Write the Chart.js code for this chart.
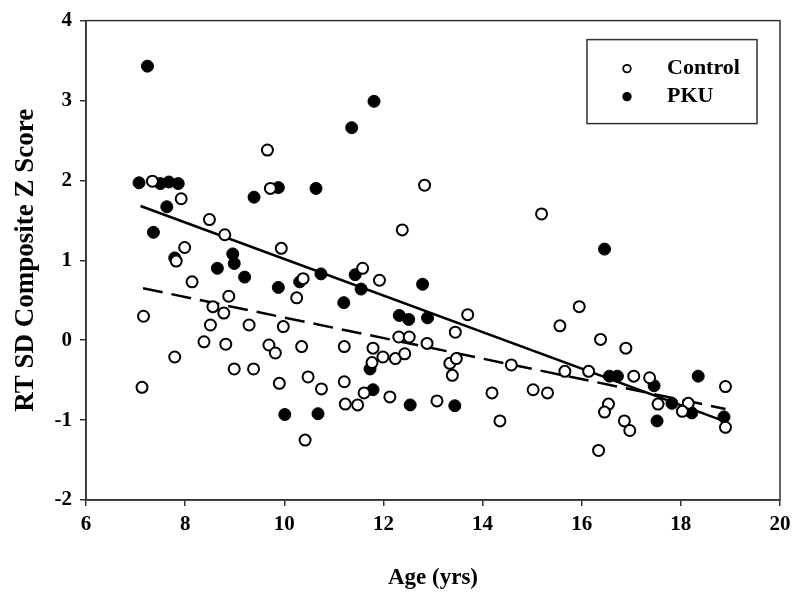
<!DOCTYPE html>
<html>
<head>
<meta charset="utf-8">
<script src="https://cdn.jsdelivr.net/npm/chart.js@4/dist/chart.umd.min.js"></script>
<style>
  body { margin: 0; background: #fff; }
  #wrap { width: 800px; height: 601px; }
</style>
</head>
<body>
<div id="wrap"><canvas id="chart" width="800" height="601"></canvas></div>
<script>
// Control group: age (yrs) and RT SD composite z score
const controlAge = [9.66, 7.34, 7.92, 9.72, 8.49, 8.80, 7.99, 9.94, 7.82, 8.14, 10.38, 8.88, 10.25, 7.16, 8.56, 8.78,
  8.51, 9.29, 9.98, 8.38, 8.82, 9.69, 9.82, 10.35, 7.79, 8.99, 9.38, 10.48, 9.90, 10.75, 7.13, 10.42,
  12.83, 15.19, 12.38, 11.58, 11.92, 13.70, 13.45, 15.56, 12.31, 12.52, 12.88, 11.21, 11.79, 11.77, 11.99, 12.24,
  12.43, 13.34, 13.47, 13.39, 14.58, 15.66, 11.21, 11.61, 12.13, 11.23, 11.48, 13.08, 14.19, 15.02, 15.31, 14.35,
  15.95, 16.38, 16.89, 16.14, 17.05, 17.37, 18.90, 16.54, 16.46, 17.54, 18.15, 18.03, 16.86, 16.97, 18.90, 16.34];
const controlZ = [2.38, 1.99, 1.77, 1.90, 1.51, 1.32, 1.16, 1.15, 0.99, 0.73, 0.77, 0.55, 0.53, 0.30, 0.42, 0.34,
  0.19, 0.19, 0.17, -0.02, -0.05, -0.06, -0.16, -0.08, -0.21, -0.36, -0.36, -0.46, -0.54, -0.61, -0.59, -1.25,
  1.94, 1.58, 1.38, 0.90, 0.75, 0.32, 0.10, 0.18, 0.04, 0.04, -0.04, -0.08, -0.10, -0.28, -0.21, -0.23,
  -0.17, -0.29, -0.23, -0.44, -0.31, -0.39, -0.52, -0.66, -0.71, -0.80, -0.81, -0.76, -0.66, -0.62, -0.66, -1.01,
  0.42, 0.01, -0.10, -0.39, -0.45, -0.47, -0.58, -0.80, -0.90, -0.80, -0.79, -0.89, -1.01, -1.13, -1.09, -1.38];

// PKU group
const pkuAge = [7.24, 7.07, 7.50, 7.67, 7.86, 7.63, 9.39, 9.88, 10.64, 7.36, 8.96, 7.79, 8.99, 8.65, 9.20, 9.88,
  10.31, 10.74, 10.01, 10.68, 11.81, 11.36, 11.43, 11.55, 12.79, 11.20, 12.32, 12.51, 12.89, 11.73, 11.79, 12.54,
  13.44, 16.46, 16.56, 16.72, 17.46, 18.35, 17.52, 17.82, 18.22, 18.87];
const pkuZ = [3.43, 1.97, 1.96, 1.98, 1.96, 1.67, 1.79, 1.91, 1.90, 1.35, 1.08, 1.03, 0.96, 0.90, 0.79, 0.66,
  0.73, 0.83, -0.93, -0.92, 2.99, 2.66, 0.82, 0.64, 0.70, 0.47, 0.31, 0.26, 0.28, -0.36, -0.62, -0.81,
  -0.82, 1.14, -0.45, -0.45, -0.57, -0.45, -1.01, -0.79, -0.91, -0.96];

// regression lines (end points)
const pkuFitAge = [7.1, 18.9];
const pkuFitZ = [1.68, -1.02];
const controlFitAge = [7.15, 18.9];
const controlFitZ = [0.65, -0.86];

const xTicks = [6, 8, 10, 12, 14, 16, 18, 20];
const yTicks = [-2, -1, 0, 1, 2, 3, 4];

const toPoints = (xs, ys) => xs.map((x, i) => ({ x: x, y: ys[i] }));

const serif = "'Liberation Serif', 'Times New Roman', serif";

// draws the box round the plot and the legend box
const framePlugin = {
    id: 'frame',
    afterDraw(chart) {
        const { ctx, chartArea: a } = chart;
        ctx.save();
        ctx.strokeStyle = '#333';
        ctx.lineWidth = 1.5;
        ctx.strokeRect(a.left, a.top, a.right - a.left, a.bottom - a.top);

        // legend
        const bx = a.right - 193, by = a.top + 19, bw = 170, bh = 84;
        ctx.strokeRect(bx, by, bw, bh);
        const entries = [
            { label: 'Control', ds: chart.data.datasets[0] },
            { label: 'PKU', ds: chart.data.datasets[1] }
        ];
        ctx.font = 'bold 22px ' + serif;
        ctx.textBaseline = 'middle';
        entries.forEach((e, i) => {
            const cy = by + 29 + i * 28;
            ctx.beginPath();
            ctx.arc(bx + 40, cy, 3.8, 0, Math.PI * 2);
            ctx.fillStyle = e.ds.pointBackgroundColor;
            ctx.fill();
            ctx.lineWidth = 1.8;
            ctx.strokeStyle = '#000';
            ctx.stroke();
            ctx.fillStyle = '#000';
            ctx.fillText(e.label, bx + 80, cy);
        });
        ctx.restore();
    }
};

new Chart(document.getElementById('chart'), {
    type: 'scatter',
    data: {
        datasets: [
            {
                label: 'Control',
                data: toPoints(controlAge, controlZ),
                pointRadius: 5.5,
                pointBackgroundColor: '#fff',
                pointBorderColor: '#000',
                pointBorderWidth: 2
            },
            {
                label: 'PKU',
                data: toPoints(pkuAge, pkuZ),
                pointRadius: 6,
                pointBackgroundColor: '#000',
                pointBorderColor: '#000',
                pointBorderWidth: 1
            },
            {
                label: 'PKU fit',
                data: toPoints(pkuFitAge, pkuFitZ),
                showLine: true,
                pointRadius: 0,
                borderColor: '#000',
                borderWidth: 2.5
            },
            {
                label: 'Control fit',
                data: toPoints(controlFitAge, controlFitZ),
                showLine: true,
                pointRadius: 0,
                borderColor: '#000',
                borderWidth: 2.5,
                borderDash: [20, 9]
            }
        ]
    },
    options: {
        responsive: false,
        animation: false,
        layout: { padding: { top: 14, right: 20, left: 0, bottom: 0 } },
        plugins: {
            legend: { display: false },
            tooltip: { enabled: false }
        },
        scales: {
            x: {
                type: 'linear',
                min: 6,
                max: 20,
                afterBuildTicks: s => { s.ticks = xTicks.map(v => ({ value: v })); },
                afterFit: s => { s.height = 101; },
                grid: { drawOnChartArea: false, color: '#333', tickLength: 6, lineWidth: 1.5 },
                border: { color: '#333', width: 1.5 },
                ticks: { color: '#000', padding: 6, font: { family: serif, size: 21, weight: 'bold' } },
                title: {
                    display: true,
                    text: 'Age (yrs)',
                    color: '#000',
                    padding: { top: 0, bottom: 9 },
                    font: { family: serif, size: 23, weight: 'bold' }
                }
            },
            y: {
                type: 'linear',
                min: -2,
                max: 4,
                afterBuildTicks: s => { s.ticks = yTicks.map(v => ({ value: v })); },
                afterFit: s => { s.width = 86; },
                grid: { drawOnChartArea: false, color: '#333', tickLength: 6, lineWidth: 1.5 },
                border: { color: '#333', width: 1.5 },
                ticks: { color: '#000', padding: 8, font: { family: serif, size: 21, weight: 'bold' } },
                title: {
                    display: true,
                    text: 'RT SD Composite Z Score',
                    color: '#000',
                    padding: { top: 10, bottom: 0 },
                    font: { family: serif, size: 27, weight: 'bold' }
                }
            }
        }
    },
    plugins: [framePlugin]
});
</script>
</body>
</html>
